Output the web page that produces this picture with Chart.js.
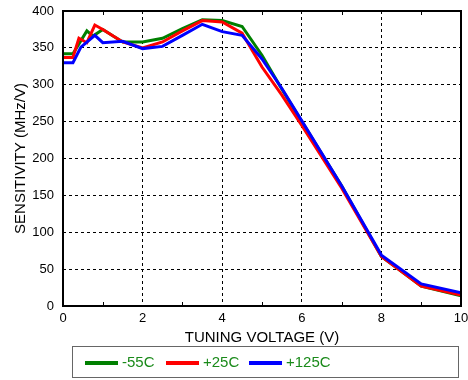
<!DOCTYPE html>
<html>
<head>
<meta charset="utf-8">
<script src="https://cdn.jsdelivr.net/npm/chart.js@4"></script>
<style>
  body { margin: 0; background: #fff; }
  #wrap { position: relative; width: 468px; height: 380px; font-family: Arial, "Liberation Sans", sans-serif; }
  #legend { position: absolute; left: 72px; top: 346px; width: 387px; height: 32px; box-sizing: border-box; border: 1px solid #666; }
  .item { position: absolute; top: 0; height: 30px; line-height: 30px; font-size: 15px; color: #1a8a1a; }
  .swatch { position: absolute; top: 14px; height: 4px; width: 33px; }
</style>
</head>
<body>
<div id="wrap">
  <canvas id="chart" width="468" height="380"></canvas>
  <div id="legend"></div>
</div>
<script>
// Series data
var labels = ['-55C', '+25C', '+125C'];
var colors = ['#008000', '#ff0000', '#0000ff'];

var coldV = [0, 0.25, 0.6, 0.75, 1, 1.5, 2, 2.5, 3, 3.5, 4, 4.5, 5, 5.5, 6, 7, 8, 9, 10];
var coldS = [342, 342, 373, 366, 375, 358, 358, 363, 376, 388, 387, 379, 340, 294, 250, 163, 67, 27, 14];

var roomV = [0, 0.25, 0.4, 0.6, 0.8, 1, 1.5, 2, 2.5, 3, 3.5, 4, 4.5, 5, 5.5, 6, 7, 8, 9, 10];
var roomS = [337, 337, 363, 357, 381, 375, 358, 350, 358, 373, 387, 385, 370, 324, 286, 245, 160, 67, 27, 15];

var hotV = [0, 0.25, 0.45, 0.8, 1, 1.5, 2, 2.5, 3, 3.5, 4, 4.5, 5, 5.5, 6, 7, 8, 9, 10];
var hotS = [330, 330, 351, 367, 357, 359, 349, 352, 367, 382, 372, 367, 335, 295, 251, 163, 69, 30, 18];

var xTicks = [0, 2, 4, 6, 8, 10];
var yTicks = [0, 50, 100, 150, 200, 250, 300, 350, 400];

function toPoints(xs, ys) {
    var pts = [];
    for (var i = 0; i < xs.length; i++) {
        pts.push({ x: xs[i], y: ys[i] });
    }
    return pts;
}

var seriesV = [coldV, roomV, hotV];
var seriesS = [coldS, roomS, hotS];
var datasets = [];
for (var i = 0; i < labels.length; i++) {
    datasets.push({
        label: labels[i],
        data: toPoints(seriesV[i], seriesS[i]),
        borderColor: colors[i],
        backgroundColor: colors[i],
        borderWidth: 3,
        pointRadius: 0,
        tension: 0,
        order: labels.length - i   // later series drawn on top
    });
}

// frame round the plot area plus small inward ticks
var framePlugin = {
    id: 'frame',
    afterDraw: function (chart) {
        var ctx = chart.ctx;
        var a = chart.chartArea;
        var xs = chart.scales.x;
        ctx.save();
        ctx.strokeStyle = '#000';
        ctx.lineWidth = 1;
        ctx.setLineDash([]);
        for (var v = 1; v < 10; v += 2) {
            var px = Math.round(xs.getPixelForValue(v)) + 0.5;
            ctx.beginPath();
            ctx.moveTo(px, a.top); ctx.lineTo(px, a.top + 4);
            ctx.moveTo(px, a.bottom); ctx.lineTo(px, a.bottom - 4);
            ctx.stroke();
        }
        ctx.lineWidth = 2;
        ctx.strokeRect(a.left, a.top, a.right - a.left, a.bottom - a.top);
        ctx.restore();
    }
};

var ctx = document.getElementById('chart').getContext('2d');
var chart = new Chart(ctx, {
    type: 'line',
    data: { datasets: datasets },
    options: {
        responsive: false,
        animation: false,
        layout: { padding: { top: 11, right: 7, left: 0, bottom: 0 } },
        plugins: { legend: { display: false }, tooltip: { enabled: false } },
        scales: {
            x: {
                type: 'linear',
                min: 0,
                max: 10,
                afterBuildTicks: function (axis) {
                    axis.ticks = xTicks.map(function (v) { return { value: v }; });
                },
                afterFit: function (axis) {
                    axis.height = 74;
                    axis.paddingLeft = 0;
                    axis.paddingRight = 0;
                },
                grid: { color: '#000', lineWidth: 1, drawTicks: false },
                border: { display: false, dash: [3, 3] },
                ticks: { color: '#000', padding: 5, maxRotation: 0, font: { family: 'Arial, "Liberation Sans"', size: 13 } },
                title: {
                    display: true,
                    text: 'TUNING VOLTAGE (V)',
                    color: '#000',
                    font: { family: 'Arial, "Liberation Sans"', size: 15 },
                    padding: { top: 0, bottom: 33 }
                }
            },
            y: {
                min: 0,
                max: 400,
                afterBuildTicks: function (axis) {
                    axis.ticks = yTicks.map(function (v) { return { value: v }; });
                },
                afterFit: function (axis) {
                    axis.width = 63;
                    axis.paddingTop = 0;
                    axis.paddingBottom = 0;
                },
                grid: { color: '#000', lineWidth: 1, drawTicks: false },
                border: { display: false, dash: [3, 3] },
                ticks: { color: '#000', padding: 9, font: { family: 'Arial, "Liberation Sans"', size: 13 } },
                title: {
                    display: true,
                    text: 'SENSITIVITY (MHz/V)',
                    color: '#000',
                    font: { family: 'Arial, "Liberation Sans"', size: 15 },
                    padding: { top: 12, bottom: 0 }
                }
            }
        }
    },
    plugins: [framePlugin]
});

// legend below the chart
var legend = document.getElementById('legend');
var swatchLeft = [12, 93, 176];
for (var j = 0; j < labels.length; j++) {
    var sw = document.createElement('div');
    sw.className = 'swatch';
    sw.style.left = swatchLeft[j] + 'px';
    sw.style.background = colors[j];
    legend.appendChild(sw);
    var tx = document.createElement('div');
    tx.className = 'item';
    tx.style.left = (swatchLeft[j] + 37) + 'px';
    tx.textContent = labels[j];
    legend.appendChild(tx);
}
</script>
</body>
</html>
